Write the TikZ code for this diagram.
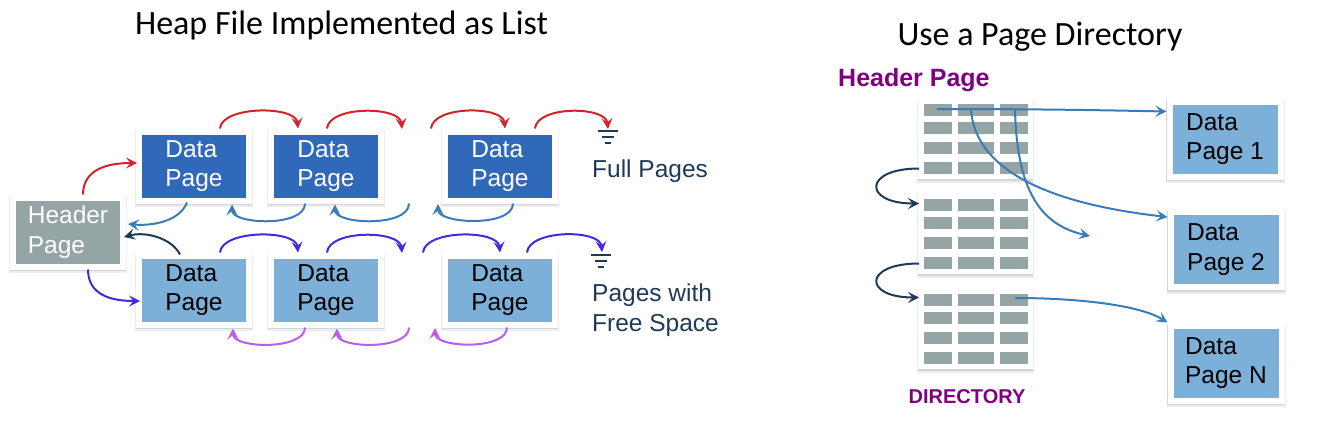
\documentclass[tikz,border=0pt]{standalone}
\usepackage{fontspec}
\setmainfont{Liberation Sans}
\newfontfamily\titlefont{Carlito}
\usetikzlibrary{arrows.meta,calc}

\definecolor{dkblue}{RGB}{48,105,185}
\definecolor{ltblue}{RGB}{124,176,216}
\definecolor{hdrgray}{RGB}{149,165,166}
\definecolor{redarr}{RGB}{208,36,44}
\definecolor{steel}{RGB}{58,124,186}
\definecolor{navy}{RGB}{30,58,86}
\definecolor{indigoarr}{RGB}{72,38,220}
\definecolor{violetarr}{RGB}{184,92,236}
\definecolor{purp}{RGB}{128,0,128}

\tikzset{
  shadowed/.style={preaction={draw=black, draw opacity=0.07, line width=8pt, transform canvas={yshift=-2.5pt}},
                   preaction={draw=black, draw opacity=0.10, line width=6.5pt, transform canvas={yshift=-1.5pt}}},
  pagebox/.style={shadowed, draw=white, line width=6pt, minimum width=110pt, minimum height=69pt,
                  align=left, font=\fontsize{24.5}{29.5}\selectfont, inner sep=0pt},
  fullbox/.style={pagebox, fill=dkblue, text=white},
  freebox/.style={pagebox, fill=ltblue, text=black},
  hdrbox/.style={pagebox, fill=hdrgray, text=white},
  rpbox/.style={pagebox, fill=ltblue, text=black, minimum width=111pt, minimum height=75pt},
  dirshadow/.style={preaction={draw=black, draw opacity=0.07, line width=5pt, transform canvas={yshift=-2.5pt}},
                    preaction={draw=black, draw opacity=0.10, line width=3.5pt, transform canvas={yshift=-1.5pt}}},
  dirbox/.style={dirshadow, draw=white, fill=white, line width=3pt, minimum width=112pt, minimum height=78pt},
  arr/.style={line width=2pt, -{Stealth[length=11pt,width=11pt,inset=4.5pt]}},
  redA/.style={arr, draw=redarr},
  steelA/.style={arr, draw=steel},
  navyA/.style={arr, draw=navy},
  indA/.style={arr, draw=indigoarr},
  vioA/.style={arr, draw=violetarr},
  ground/.style={draw=navy, line width=2.5pt},
  lbl/.style={text=navy, font=\fontsize{24.5}{30}\selectfont, align=left, inner sep=0pt},
  ttl/.style={font=\titlefont\fontsize{34}{40}\selectfont, inner sep=0pt, anchor=base},
  purplbl/.style={text=purp, font=\bfseries, inner sep=0pt}
}

\begin{document}
\begin{tikzpicture}[x=1pt,y=-1pt]
\useasboundingbox (0,0) rectangle (1320,436);

% ---------------- left part ----------------
\node[ttl] (t-left) at (341.5,35) {Heap File Implemented as List};

\node[hdrbox] (hdr) at (68,232) {Header\\Page};
\node[fullbox] (t1) at (194,166) {Data\\Page};
\node[fullbox] (t2) at (326,166) {Data\\Page};
\node[fullbox] (t3) at (500,166) {Data\\Page};
\node[freebox] (b1) at (194,290) {Data\\Page};
\node[freebox] (b2) at (326,290) {Data\\Page};
\node[freebox] (b3) at (500,290) {Data\\Page};

% ground symbols
\coordinate (g1) at (608,129);
\draw[ground] (598,131) -- (618,131) (602,137) -- (614,137) (605,143) -- (611,143);
\coordinate (g2) at (602,252);
\draw[ground] (591,255) -- (611,255) (595,261) -- (607,261) (598,267) -- (604,267);

\node[lbl, anchor=base west] (lfull) at (592,177) {Full Pages};
\node[lbl, anchor=north west] (lfree) at (592,284) {Pages with\\Free Space};

% free ends in the gaps
\coordinate (gT1) at (402,129);
\coordinate (gT2) at (431,128.5);
\coordinate (gT3) at (409,203.5);
\coordinate (gT4) at (438,204);
\coordinate (gB1) at (402,253);
\coordinate (gB2) at (423,252.5);
\coordinate (gB3) at (409,327.5);
\coordinate (gB4) at (435,328);

% red: header -> full pages chain
\draw[redA] ($(hdr.north)+(15,0)$) .. controls +(0,-26) and +(-28,0) .. ($(t1.west)+(1,-3)$);
\draw[redA] ($(t1.north)+(26,0)$) .. controls +(2,-23) and +(-2,-23) .. ($(t2.north)+(-28,0)$);
\draw[redA] ($(t2.north)+(1,0)$) .. controls +(2,-23) and +(-2,-23) .. (gT1);
\draw[redA] (gT2) .. controls +(2,-23) and +(-2,-23) .. ($(t3.north)+(5,0)$);
\draw[redA] ($(t3.north)+(35,0)$) .. controls +(2,-23) and +(-2,-23) .. (g1);

% steel blue: back links of full pages
\draw[steelA] ($(t1.south)+(-7,-1)$) .. controls +(-8,20) and +(22,2) .. ($(hdr.east)+(2,-8)$);
\draw[steelA] ($(t2.south)+(-21,0)$) .. controls +(0,24) and +(0,20) .. ($(t1.south)+(38,1)$);
\draw[steelA] (gT3) .. controls +(0,24) and +(0,20) .. ($(t2.south)+(9,1)$);
\draw[steelA] ($(t3.south)+(13,0)$) .. controls +(0,24) and +(0,20) .. (gT4);

% navy: free page back to header
\draw[navyA] ($(b1.north)+(-14,2)$) .. controls +(-8,-16) and +(22,-6) .. ($(hdr.east)+(-2,5)$);

% indigo: header -> free pages chain
\draw[indA] ($(hdr.south)+(20,0)$) .. controls +(0,26) and +(-28,0) .. ($(b1.west)+(4,11)$);
\draw[indA] ($(b1.north)+(26,0)$) .. controls +(2,-23) and +(-2,-23) .. ($(b2.north)+(-28,0)$);
\draw[indA] ($(b2.north)+(1,0)$) .. controls +(2,-23) and +(-2,-23) .. (gB1);
\draw[indA] (gB2) .. controls +(2,-23) and +(-2,-23) .. ($(b3.north)+(0,0)$);
\draw[indA] ($(b3.north)+(27,0)$) .. controls +(2,-23) and +(-2,-23) .. (g2);

% violet: back links of free pages
\draw[vioA] ($(b2.south)+(-21,0)$) .. controls +(0,23) and +(0,20) .. ($(b1.south)+(39,1)$);
\draw[vioA] (gB3) .. controls +(0,23) and +(0,20) .. ($(b2.south)+(11,1)$);
\draw[vioA] ($(b3.south)+(7,0)$) .. controls +(0,23) and +(0,20) .. (gB4);

% ---------------- right part ----------------
\node[ttl] (t-right) at (1040,46) {Use a Page Directory};
\node[purplbl, anchor=base west, font=\bfseries\fontsize{25}{30}\selectfont] (hplbl) at (838,86) {Header Page};

\node[dirbox] (dir1) at (975.5,138.5) {};
\node[dirbox] (dir2) at (975.5,233.5) {};
\node[dirbox] (dir3) at (975.5,328.5) {};
\foreach \t in {98,193,288}{
  \foreach \r in {6,24,44,64}{
    \foreach \a/\b in {924/952,958/994,1000/1028}{
      \fill[hdrgray] (\a,\t+\r) rectangle (\b,\t+\r+12);
    }
  }
}
\node[purplbl, anchor=base, font=\bfseries\fontsize{20}{24}\selectfont] (dirlbl) at (967,403) {DIRECTORY};

\node[rpbox] (dp1) at (1225,139) {Data\\Page 1};
\node[rpbox] (dp2) at (1226,249.5) {Data\\Page 2};
\node[rpbox] (dpN) at (1226,363) {Data\\Page N};

\coordinate (dfree) at (1090,236);

\draw[steelA] ($(dir1.north west)+(19,11)$) .. controls +(110,0) and +(-50,-1) .. ($(dp1.north west)+(0,13)$);
\draw[steelA] ($(dir1.north west)+(53,11)$) .. controls +(4,66) and +(-107,-12) .. ($(dp2.north west)+(0,8)$);
\draw[steelA] ($(dir1.north west)+(97,12)$) .. controls +(2,80) and +(-50,-11) .. (dfree);
\draw[steelA] ($(dir3.north west)+(97,10)$) .. controls +(65,0) and +(-27,-17) .. (dpN.north west);

\draw[navyA] ($(dir1.west)+(1,30)$) .. controls +(-56,0) and +(-56,0) .. ($(dir2.west)+(1,-30)$);
\draw[navyA] ($(dir2.west)+(1,30)$) .. controls +(-56,0) and +(-56,0) .. ($(dir3.west)+(1,-31)$);
\end{tikzpicture}
\end{document}
